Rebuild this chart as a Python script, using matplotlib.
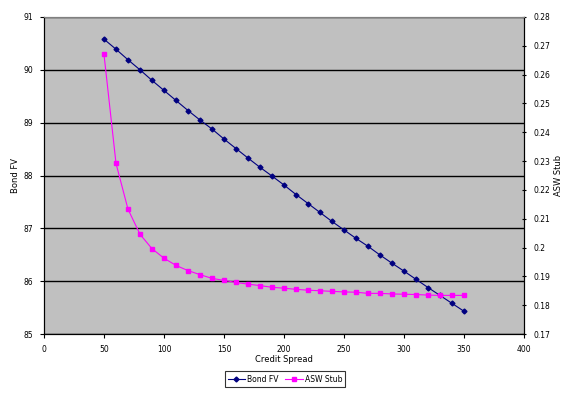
import matplotlib.pyplot as plt
from matplotlib.ticker import FuncFormatter

spread = [50, 60, 70, 80, 90, 100, 110, 120, 130, 140, 150, 160, 170, 180, 190, 200,
          210, 220, 230, 240, 250, 260, 270, 280, 290, 300, 310, 320, 330, 340, 350]
bond_fv = [90.58, 90.39, 90.19, 90.00, 89.80, 89.61, 89.42, 89.23, 89.05, 88.88, 88.69,
           88.51, 88.33, 88.155, 87.99, 87.82, 87.64, 87.47, 87.30, 87.13, 86.97, 86.81,
           86.66, 86.495, 86.34, 86.19, 86.035, 85.88, 85.73, 85.58, 85.43]
asw_stub = [0.2670, 0.2292, 0.2133, 0.2046, 0.1996, 0.1963, 0.1938, 0.1920, 0.1906, 0.1893,
            0.1886, 0.1879, 0.1873, 0.1868, 0.1862, 0.1859, 0.1855, 0.1852, 0.1850, 0.1848,
            0.1846, 0.1845, 0.1841, 0.1841, 0.1839, 0.1838, 0.1837, 0.1835, 0.1834, 0.1834, 0.1834]

fs = 5.5
fig = plt.figure(figsize=(5.76, 3.95), dpi=100)
ax = fig.add_axes([44 / 576, 1 - 334 / 395, 480 / 576, 317 / 395])
ax.set_facecolor('#c0c0c0')

l1, = ax.plot(spread, bond_fv, color='#000080', lw=0.8, marker='D', ms=2.5, label='Bond FV')
ax.set_xlim(0, 400)
ax.set_ylim(85, 91)
ax.set_xticks(range(0, 401, 50))
ax.set_yticks(range(85, 92))
ax.yaxis.grid(True, color='black', lw=1)
ax.set_axisbelow(True)
ax.set_ylabel('Bond FV', fontsize=6, labelpad=2)
ax.set_xlabel('Credit Spread', fontsize=6, labelpad=1)
ax.tick_params(labelsize=fs, length=3, width=0.8, direction='out', pad=5)

ax2 = ax.twinx()
l2, = ax2.plot(spread, asw_stub, color='#ff00ff', lw=0.8, marker='s', ms=3.5, label='ASW Stub')
ax2.set_ylim(0.17, 0.28)
ax2.set_yticks([0.17 + 0.01 * i for i in range(12)])
ax2.yaxis.set_major_formatter(FuncFormatter(lambda v, p: f'{v:.2f}'.rstrip('0')))
ax2.set_ylabel('ASW Stub', fontsize=6, labelpad=3)
ax2.tick_params(labelsize=fs, length=3, width=0.8, direction='inout', pad=5)

for a in (ax, ax2):
    for s in ['left', 'right', 'bottom']:
        a.spines[s].set_color('black')
        a.spines[s].set_linewidth(0.8)
    a.spines['top'].set_color('#808080')
    a.spines['top'].set_linewidth(0.8)

leg = fig.legend([l1, l2], ['Bond FV', 'ASW Stub'], loc='center', bbox_to_anchor=(285 / 576, 1 - 379 / 395),
                 ncol=2, fontsize=5.5, frameon=True, fancybox=False, edgecolor='black',
                 handlelength=2.3, columnspacing=0.8, borderpad=0.4, handletextpad=0.3)
leg.get_frame().set_linewidth(0.8)

fig.savefig('out.png', dpi=100)
